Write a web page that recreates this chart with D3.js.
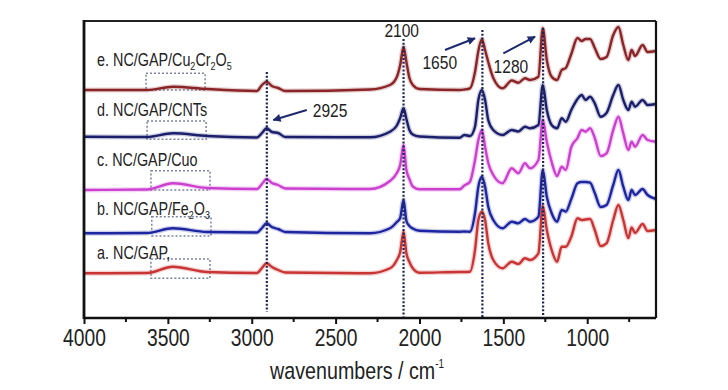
<!DOCTYPE html>
<html lang="en">
<head>
<meta charset="UTF-8">
<title>FTIR spectra NC/GAP</title>
<script src="https://d3js.org/d3.v7.min.js"></script>
<style>
  body { margin: 0; background: #fff; }
  text { font-family: "Liberation Sans", Arial, sans-serif; fill: #222; }
</style>
</head>
<body>
<div id="chart"></div>
<script>
// Data: wavenumber grid (cm-1) shared by all spectra, offset intensities (a.u.)
const wavenumbers = [4000, 3624, 3470, 3267, 2969, 2939, 2911, 2880, 2843, 2800, 2295, 2176, 2135, 2115, 2095, 2078, 2060, 2040, 2000, 1760,
  1733, 1699, 1669, 1649, 1628, 1609, 1590, 1560, 1505, 1450, 1411, 1371, 1341, 1291, 1265, 1241, 1212, 1180, 1152, 1128,
  1095, 1058, 1033, 1010, 983, 955, 920, 885, 845, 814, 785, 755, 735, 715, 670, 640, 590];

const valuesA = [44.7, 45, 51.3, 46, 45, 50, 54.7, 51, 48, 45.5, 44.7, 49.7, 58, 66, 86.3, 64.7, 56, 49.7, 45.3, 46,
  46, 46.3, 68, 98, 106.3, 98, 74.7, 58, 49.7, 56.3, 54, 59.7, 58, 64.7, 112, 88, 68, 56.3, 71.3, 71.3,
  81.3, 99.7, 98, 98.5, 99, 88, 72, 74.7, 98, 113, 98, 80, 90.5, 85, 94, 87, 88];
const valuesB = [84.7, 85, 89.7, 86, 85.5, 90, 94.7, 91, 89, 86, 84.7, 89.7, 96, 100, 118, 97, 92, 89.5, 87.3, 86.3,
  86.5, 86.3, 104.7, 131.3, 141.3, 131.3, 111.3, 98, 89.7, 96.3, 94.7, 99, 96.3, 101.3, 148, 121.3, 104.7, 96.3, 108, 106.5,
  119, 134.7, 136, 136, 135.3, 125, 111, 113, 133, 148, 131.3, 118, 128, 123, 129, 123, 119];
const valuesC = [128, 128.5, 134.7, 130, 129, 134, 139, 135, 133, 129.5, 129, 137, 145, 153, 173, 148, 139, 131.5, 128.7, 128.7,
  132.5, 136.3, 158, 178, 188, 171.3, 155, 143, 134.7, 149.7, 144.7, 154.7, 149.7, 158, 198, 176, 156, 142, 151.3, 148,
  171, 180, 188, 186.3, 189.7, 180, 162, 164.7, 188, 201.3, 184.7, 168, 176.3, 171.3, 183, 178, 176.3];
const valuesD = [181.3, 181, 184.7, 182, 180.5, 185, 189.7, 186, 185, 181, 180.7, 186.3, 192.5, 200, 209.7, 199, 188, 183.5, 181.5, 180.3,
  183, 182, 191.3, 218, 228, 218, 198, 188, 183, 188, 186.5, 191.3, 189.7, 193, 233, 208, 193, 189.7, 199.7, 196.3,
  208, 219, 223, 218, 221.3, 214.7, 201.3, 205, 223, 233, 218, 208, 216.3, 211.3, 218, 213, 214];
const valuesE = [228, 228, 231.3, 229, 227, 233, 236.3, 232, 230, 227, 228.5, 233, 241, 253, 271, 256, 240, 233, 229, 228,
  228.5, 229.7, 246, 267, 278.7, 268, 256, 240, 229.7, 237.5, 235.3, 239.7, 238, 241.3, 289.7, 258, 241.3, 238, 248, 250,
  264, 280, 277, 279, 279, 270, 259, 261, 283, 291, 273, 258, 268, 262, 273, 266, 267];

const seriesLabels = ["a. NC/GAP,", "b. NC/GAP/Fe_2O_3", "c. NC/GAP/Cuo", "d. NC/GAP/CNTs", "e. NC/GAP/Cu_2Cr_2O_5"];
const seriesColors = ["#c93434", "#1d25a0", "#cc40d0", "#1b1f6b", "#8a2427"];
const allValues = [valuesA, valuesB, valuesC, valuesD, valuesE];

// label baselines (offset units) and dashed boxes over the 3400 cm-1 band
const labelLevels = [59, 103, 152, 202, 252];
const boxWn = [[3601, 3249], [3596, 3243], [3601, 3249], [3624, 3272], [3630, 3278]];
const boxLevels = [[39.7, 59], [82, 101.3], [128, 147.3], [178.7, 197], [228, 244.7]];

// marked bands
const peakLines = [2910, 2095, 1625, 1263];
const peakLineTop = [246, 279, 288, 290];
const peakLineBottom = [6, 0, 0, 3];
const peakTexts = ["2925", "2100", "1650", "1280"];
const peakTextPos = [[2533, 201], [2106, 281], [1879, 249], [1455, 245]];
const arrows = [[[2672, 208], [2871, 198]], [[1848, 268], [1669, 279.7]], [[1500, 264.7], [1311, 281.3]]];

const majorTicks = [4000, 3500, 3000, 2500, 2000, 1500, 1000];
const minorTicks = [3750, 3250, 2750, 2250, 1750, 1250, 750];

// Dimensions
const width = 728, height = 390;
const plotLeft = 84, plotRight = 656, plotTop = 21, plotBottom = 318;
const squeeze = 0.82; // the source uses a condensed face

const x = d3.scaleLinear().domain([4000, 590]).range([plotLeft, plotRight]);
const y = d3.scaleLinear().domain([0, 297]).range([plotBottom, plotTop]);

const svg = d3.select("#chart").append("svg")
  .attr("width", width).attr("height", height);

// condensed text placed at (px, py)
function narrowText(px, py, size, anchor) {
  return svg.append("text")
    .attr("transform", `translate(${px},${py}) scale(${squeeze},1)`)
    .attr("text-anchor", anchor || "start")
    .attr("font-size", size);
}

svg.append("defs").append("marker")
  .attr("id", "arrow")
  .attr("viewBox", "0 0 10 10")
  .attr("refX", 9).attr("refY", 5)
  .attr("markerUnits", "userSpaceOnUse")
  .attr("markerWidth", 10).attr("markerHeight", 8)
  .attr("orient", "auto")
  .append("path").attr("d", "M0,0 L10,5 L0,10 Z").attr("fill", "#1e2a6e");

// dashed boxes
boxWn.forEach((b, i) => {
  svg.append("rect")
    .attr("x", x(b[0])).attr("y", y(boxLevels[i][1]))
    .attr("width", x(b[1]) - x(b[0]))
    .attr("height", y(boxLevels[i][0]) - y(boxLevels[i][1]))
    .attr("fill", "none")
    .attr("stroke", "#7c819e")
    .attr("stroke-width", 1.5)
    .attr("stroke-dasharray", "2,2");
});

// spectra
const line = d3.line()
  .x((d, i) => x(wavenumbers[i]))
  .y(d => y(d))
  .curve(d3.curveMonotoneX);

allValues.forEach((vals, i) => {
  svg.append("path").attr("d", line(vals))
    .attr("fill", "none").attr("stroke", seriesColors[i])
    .attr("stroke-width", 5).attr("stroke-opacity", 0.22)
    .attr("stroke-linejoin", "round");
  svg.append("path").attr("d", line(vals))
    .attr("fill", "none").attr("stroke", seriesColors[i])
    .attr("stroke-width", 2.4)
    .attr("stroke-linejoin", "round");
});

// dotted band lines
peakLines.forEach((p, i) => {
  svg.append("line")
    .attr("x1", x(p)).attr("x2", x(p))
    .attr("y1", y(peakLineTop[i])).attr("y2", y(peakLineBottom[i]))
    .attr("stroke", "#1e2555")
    .attr("stroke-width", 2.2)
    .attr("stroke-dasharray", "2,1.8");
});

// arrows and band numbers
arrows.forEach(a => {
  svg.append("line")
    .attr("x1", x(a[0][0])).attr("y1", y(a[0][1]))
    .attr("x2", x(a[1][0])).attr("y2", y(a[1][1]))
    .attr("stroke", "#1e2a6e").attr("stroke-width", 2)
    .attr("marker-end", "url(#arrow)");
});

peakTexts.forEach((t, i) => {
  narrowText(x(peakTextPos[i][0]), y(peakTextPos[i][1]), 19, "middle").text(t);
});

// series labels with subscripts
seriesLabels.forEach((lab, i) => {
  const t = narrowText(x(3922), y(labelLevels[i]), 17.5);
  lab.split(/(_\d)/).filter(s => s.length).forEach(part => {
    if (part[0] === "_") {
      t.append("tspan").attr("dy", 4).attr("font-size", 11).text(part.slice(1));
    } else {
      const sp = t.append("tspan").text(part);
      if (t.selectAll("tspan").size() > 1) sp.attr("dy", -4);
    }
  });
});

// frame
svg.append("line").attr("x1", plotLeft).attr("x2", plotRight).attr("y1", plotTop).attr("y2", plotTop)
  .attr("stroke", "#222").attr("stroke-width", 2);
svg.append("line").attr("x1", plotRight).attr("x2", plotRight).attr("y1", plotTop).attr("y2", plotBottom)
  .attr("stroke", "#111").attr("stroke-width", 2.2);
svg.append("line").attr("x1", plotLeft).attr("x2", plotLeft).attr("y1", plotTop - 1).attr("y2", plotBottom + 1)
  .attr("stroke", "#111").attr("stroke-width", 2.8);

// x axis
const xAxis = svg.append("g")
  .attr("transform", `translate(0,${plotBottom})`)
  .call(d3.axisBottom(x).tickValues(majorTicks).tickSize(6).tickPadding(5).tickFormat(d3.format("d")));
xAxis.select(".domain").attr("stroke", "#111").attr("stroke-width", 2.6)
  .attr("d", `M${plotLeft},0H${plotRight}`);
xAxis.selectAll(".tick line").attr("stroke", "#111").attr("stroke-width", 2);
xAxis.selectAll(".tick text")
  .attr("font-size", 23.5)
  .attr("fill", "#222")
  .attr("transform", `scale(${squeeze},1)`)
  .style("font-family", '"Liberation Sans", Arial, sans-serif');

svg.append("g")
  .attr("transform", `translate(0,${plotBottom})`)
  .selectAll("line").data(minorTicks).join("line")
  .attr("x1", d => x(d)).attr("x2", d => x(d))
  .attr("y1", 0).attr("y2", 4)
  .attr("stroke", "#111").attr("stroke-width", 2);

const title = narrowText(357, 379, 24, "middle");
title.append("tspan").text("wavenumbers / cm");
title.append("tspan").attr("dy", -11).attr("font-size", 12).text("-1");
</script>
</body>
</html>
